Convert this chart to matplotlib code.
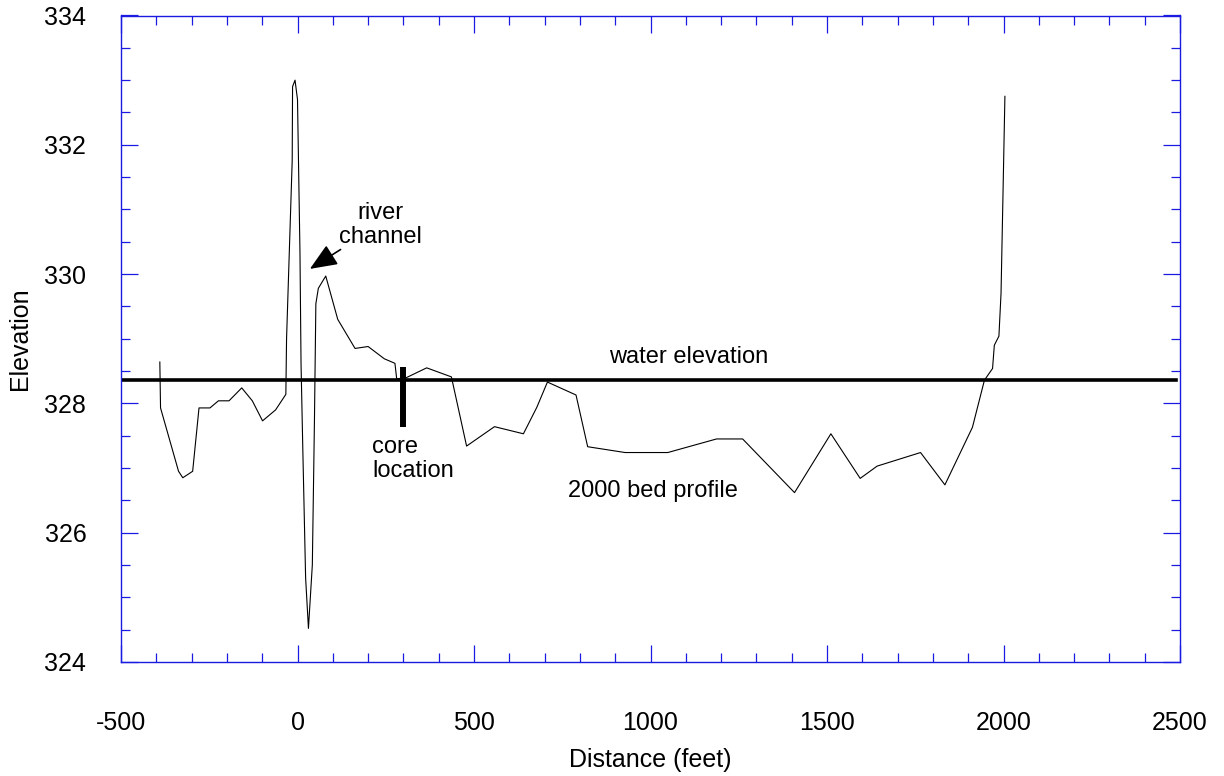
import matplotlib
matplotlib.use("Agg")
import matplotlib.pyplot as plt
from matplotlib.ticker import MultipleLocator

plt.rcParams['font.family'] = ['Liberation Sans', 'DejaVu Sans']
plt.rcParams['axes.unicode_minus'] = False

# 2000 bed profile (distance in feet, elevation)
distance = [-390, -388, -337, -325, -297, -279, -248, -224, -194, -158, -128, -99, -62, -33,
            -31, -15, -14, -7, 0, 7, 10, 15, 23, 31, 42, 48, 52, 59, 80, 114, 163, 200,
            246, 276, 281, 309, 366, 436, 479, 558, 640, 678, 708, 789, 822, 928, 1049,
            1187, 1261, 1408, 1511, 1594, 1642, 1765, 1834, 1912, 1946, 1969, 1974, 1987,
            1993, 1999, 2004]
elevation = [328.64, 327.93, 326.95, 326.85, 326.95, 327.93, 327.93, 328.04, 328.04, 328.24,
             328.04, 327.73, 327.90, 328.14, 329.00, 331.76, 332.90, 333.00, 332.70, 330.33,
             328.62, 327.30, 325.30, 324.52, 325.50, 327.73, 329.54, 329.78, 329.97, 329.30,
             328.85, 328.88, 328.69, 328.62, 328.38, 328.40, 328.55, 328.41, 327.34, 327.64,
             327.53, 327.94, 328.33, 328.13, 327.33, 327.24, 327.24, 327.45, 327.45, 326.62,
             327.53, 326.84, 327.03, 327.24, 326.74, 327.63, 328.36, 328.54, 328.90, 329.04,
             329.70, 331.36, 332.75]

water_x = [-500, 2490]
water_y = [328.36, 328.36]

core_x = [300, 300]
core_y = [327.63, 328.57]

xticks = [-500, 0, 500, 1000, 1500, 2000, 2500]
yticks = [324, 326, 328, 330, 332, 334]

blue = '#1a1ae0'

fig = plt.figure(figsize=(12.24, 7.76), dpi=100)
ax = fig.add_axes([121/1224, 1-662/776, (1180-121)/1224, (662-15.5)/776])

ax.plot(distance, elevation, color='black', lw=0.8)
ax.plot(water_x, water_y, color='black', lw=2.6)
ax.plot(core_x, core_y, color='black', lw=4.3, solid_capstyle='butt')

ax.set_xlim(-500, 2500)
ax.set_ylim(324, 334)
ax.set_xticks(xticks)
ax.set_yticks(yticks)
ax.xaxis.set_minor_locator(MultipleLocator(100))
ax.yaxis.set_minor_locator(MultipleLocator(0.5))

for s in ax.spines.values():
    s.set_color(blue)
    s.set_linewidth(1.0)

ax.tick_params(which='both', direction='in', top=True, right=True, color=blue, width=0.9,
               labelsize=18)
ax.tick_params(which='major', length=12.5)
ax.tick_params(which='minor', length=6.5)
ax.tick_params(axis='x', which='major', pad=35)
ax.tick_params(axis='y', which='major', pad=25)

ax.set_xlabel('Distance (feet)', fontsize=18, labelpad=10)
ax.set_ylabel('Elevation', fontsize=18, labelpad=9)

ax.text(236, 330.76, 'river\nchannel', fontsize=17, ha='center', va='center', linespacing=1.1)
ax.annotate('', xy=(35, 330.08), xytext=(122, 330.38),
            arrowprops=dict(arrowstyle='-|>,head_length=1.2,head_width=0.5',
                            color='black', lw=1.2, mutation_scale=14, shrinkA=0, shrinkB=0))
ax.text(1109, 328.62, 'water elevation', fontsize=17, ha='center', va='baseline')
ax.text(211, 327.14, 'core\nlocation', fontsize=17, ha='left', va='center', linespacing=1.1)
ax.text(1007, 326.55, '2000 bed profile', fontsize=17, ha='center', va='baseline')

fig.savefig('out.png', dpi=100)
